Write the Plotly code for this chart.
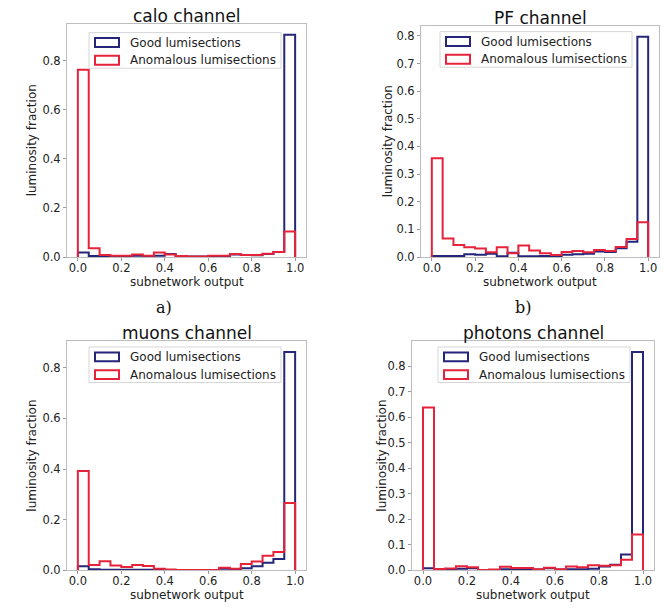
import numpy as np
import plotly.graph_objects as go

# ---------------- data ----------------
n_bins = 20
x_tick_vals = [0.0, 0.2, 0.4, 0.6, 0.8, 1.0]
series_names = ["Good lumisections", "Anomalous lumisections"]
titles = ["calo channel", "PF channel", "muons channel", "photons channel"]
panel_tags = ["a)", "b)"]

calo_good = [0.018, 0.004, 0.003, 0.003, 0.004, 0.005, 0.004, 0.005, 0.012, 0.004,
             0.002, 0.002, 0.004, 0.004, 0.010, 0.008, 0.007, 0.012, 0.020, 0.905]
calo_anom = [0.763, 0.036, 0.008, 0.005, 0.005, 0.010, 0.005, 0.018, 0.010, 0.004,
             0.002, 0.002, 0.005, 0.005, 0.012, 0.008, 0.008, 0.013, 0.020, 0.104]

pf_good = [0.004, 0.004, 0.004, 0.010, 0.008, 0.012, 0.003, 0.015, 0.003, 0.003,
           0.004, 0.004, 0.008, 0.010, 0.012, 0.020, 0.018, 0.032, 0.055, 0.797]
pf_anom = [0.357, 0.067, 0.043, 0.035, 0.031, 0.017, 0.035, 0.014, 0.042, 0.024,
           0.014, 0.007, 0.018, 0.022, 0.017, 0.025, 0.022, 0.036, 0.065, 0.126]

muons_good = [0.016, 0.004, 0.002, 0.002, 0.002, 0.002, 0.002, 0.002, 0.001, 0.001,
              0.001, 0.001, 0.001, 0.006, 0.004, 0.008, 0.016, 0.030, 0.045, 0.862]
muons_anom = [0.392, 0.021, 0.036, 0.019, 0.013, 0.021, 0.017, 0.006, 0.003, 0.001,
              0.001, 0.001, 0.001, 0.010, 0.006, 0.025, 0.035, 0.058, 0.072, 0.266]

photons_good = [0.008, 0.003, 0.004, 0.006, 0.008, 0.001, 0.001, 0.004, 0.004, 0.004,
                0.003, 0.008, 0.003, 0.004, 0.004, 0.006, 0.015, 0.022, 0.062, 0.855]
photons_anom = [0.638, 0.005, 0.007, 0.016, 0.012, 0.001, 0.003, 0.014, 0.009, 0.009,
                0.004, 0.010, 0.004, 0.015, 0.012, 0.020, 0.018, 0.020, 0.042, 0.140]

y_tick_steps = [0.2, 0.1, 0.2, 0.1]

# ---------------- layout ----------------
W, H = 664, 609
COL_GOOD = "#25257a"
COL_ANOM = "#e5233a"
FONT = "DejaVu Sans"
TXT = "#222222"

# panel boxes in pixels: left, right, top, bottom
boxes = [(67, 306, 24, 260), (421, 659, 26, 260),
         (67, 306, 345, 577), (412, 654, 345, 577)]
legend_boxes = [(89, 33), (440, 32), (89, 351), (438, 351)]  # left, top
ytitle_x = [32, 388, 32, 382]
xtitle_dy = [25, 25, 25, 25]

def px(xp):
    return xp / W

def py(yp):
    return 1 - yp / H

good_all = [calo_good, pf_good, muons_good, photons_good]
anom_all = [calo_anom, pf_anom, muons_anom, photons_anom]

edges = np.linspace(0.0, 1.0, n_bins + 1)

def step_xy(vals):
    xs = [0.0] + list(edges) + [1.0]
    ys = [0.0] + list(vals) + [vals[-1], 0.0]
    return xs, ys

fig = go.Figure()
shapes = []
annotations = []

for i in range(4):
    ax = "" if i == 0 else str(i + 1)
    l, r, t, b = boxes[i]
    ymax = max(max(good_all[i]), max(anom_all[i])) * 1.05
    for vals, col, nm in [(good_all[i], COL_GOOD, series_names[0]),
                          (anom_all[i], COL_ANOM, series_names[1])]:
        xs, ys = step_xy(vals)
        fig.add_trace(go.Scatter(x=xs, y=ys, mode="lines", line_shape="hv",
                                 line=dict(color=col, width=2), name=nm,
                                 showlegend=False, xaxis="x" + ax, yaxis="y" + ax))
    step = y_tick_steps[i]
    yt = [round(k * step, 2) for k in range(int(0.8 / step + 1e-9) + 1)]
    axis_common = dict(showline=True, linecolor="#bdbdbd", linewidth=1, mirror=True,
                       showgrid=False, zeroline=False, ticks="outside", ticklen=3,
                       tickcolor="#9a9a9a", tickformat=".1f",
                       tickfont=dict(family=FONT, size=11.5, color=TXT))
    fig.update_layout(**{
        "xaxis" + ax: dict(domain=[px(l), px(r)], range=[-0.05, 1.05],
                           tickvals=x_tick_vals, anchor="y" + ax,
                           ticklabelstandoff=-3, **axis_common),
        "yaxis" + ax: dict(domain=[py(b), py(t)], range=[0, ymax],
                           tickvals=yt, anchor="x" + ax, **axis_common),
    })
    # title
    cx = (l + r) / 2
    annotations.append(dict(text=titles[i], x=px(cx), y=py(t - 8), xref="paper", yref="paper",
                            xanchor="center", yanchor="middle", showarrow=False,
                            font=dict(family=FONT, size=17, color="#111111")))
    # x title
    annotations.append(dict(text="subnetwork output", x=px(cx), y=py(b + xtitle_dy[i]),
                            xref="paper", yref="paper", xanchor="center", yanchor="middle",
                            showarrow=False, font=dict(family=FONT, size=12, color=TXT)))
    # y title
    annotations.append(dict(text="luminosity fraction", x=px(ytitle_x[i]), y=py((t + b) / 2),
                            xref="paper", yref="paper", xanchor="center", yanchor="middle",
                            textangle=-90, showarrow=False,
                            font=dict(family=FONT, size=12, color=TXT)))
    # manual legend
    bl, bt = legend_boxes[i]
    shapes.append(dict(type="rect", xref="paper", yref="paper", x0=px(bl), x1=px(bl + 192),
                       y0=py(bt + 36), y1=py(bt), line=dict(color="#d6d6d6", width=1),
                       fillcolor="rgba(255,255,255,0.85)", layer="above"))
    for k, (col, nm) in enumerate([(COL_GOOD, series_names[0]), (COL_ANOM, series_names[1])]):
        rc = bt + 10 + 18 * k
        shapes.append(dict(type="rect", xref="paper", yref="paper", x0=px(bl + 6),
                           x1=px(bl + 30), y0=py(rc + 4.5), y1=py(rc - 4.5),
                           line=dict(color=col, width=2), fillcolor="white", layer="above"))
        annotations.append(dict(text=nm, x=px(bl + 39), y=py(rc), xref="paper", yref="paper",
                                xanchor="left", yanchor="middle", showarrow=False,
                                font=dict(family=FONT, size=12, color=TXT)))

# panel tags
for tag, xc in zip(panel_tags, [164, 523]):
    annotations.append(dict(text=tag, x=px(xc), y=py(311), xref="paper", yref="paper",
                            xanchor="center", yanchor="middle", showarrow=False,
                            font=dict(family="DejaVu Serif", size=16, color="#111111")))

fig.update_layout(width=W, height=H, margin=dict(l=0, r=0, t=0, b=0),
                  paper_bgcolor="white", plot_bgcolor="white",
                  shapes=shapes, annotations=annotations, showlegend=False)

fig.write_html("out.html", config={"displayModeBar": False},
               post_script="document.body.style.margin='0';document.body.style.overflow='hidden';")
